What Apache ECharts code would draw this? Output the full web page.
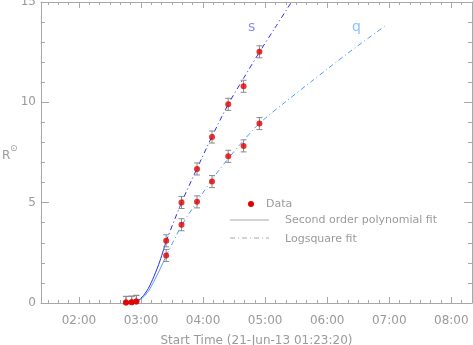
<!DOCTYPE html>
<html>
<head>
<meta charset="utf-8">
<script src="https://cdn.jsdelivr.net/npm/echarts@6/dist/echarts.min.js"></script>
<style>
    html, body { margin: 0; padding: 0; background: #fff; }
    #chart { width: 473px; height: 345px; }
</style>
</head>
<body>
<div id="chart"></div>
<script>
// observation times, 21-Jun-13
var obsTimes = ['02:45:30', '02:51:00', '02:55:30', '03:24:20', '03:39:10', '03:54:10', '04:08:40', '04:24:20', '04:39:10', '04:54:30'];
var sHeights = [0.03, 0.04, 0.08, 3.10, 5.01, 6.68, 8.27, 9.90, 10.80, 12.52];
var qHeights = [0.03, 0.04, 0.08, 2.37, 3.90, 5.04, 6.05, 7.31, 7.83, 8.94];
var sErr = [0.3, 0.3, 0.3, 0.3, 0.3, 0.3, 0.3, 0.3, 0.3, 0.3];
var qErr = [0.3, 0.3, 0.3, 0.3, 0.3, 0.3, 0.3, 0.3, 0.3, 0.3];

// second order polynomial fit (early phase)
var polyTimes = ['02:55:30', '03:01:00', '03:07:00', '03:12:30', '03:18:20', '03:24:20'];
var sPolyVals = [0.05, 0.28, 0.72, 1.32, 2.10, 3.08];
var qPolyVals = [0.05, 0.23, 0.58, 1.08, 1.68, 2.35];

// logsquare fit
var sLogTimes = ['03:24:20', '03:39:10', '03:54:10', '04:08:40', '04:24:20', '04:39:10', '04:54:30', '05:10:00', '05:25:30'];
var sLogVals = [3.08, 5.00, 6.70, 8.30, 9.90, 11.20, 12.50, 13.75, 15.00];
var qLogTimes = ['03:24:20', '03:39:10', '03:54:10', '04:08:40', '04:24:20', '04:39:10', '04:54:30', '05:20:20', '05:45:00', '06:20:00', '06:56:40'];
var qLogVals = [2.35, 3.85, 5.05, 6.15, 7.20, 8.10, 8.95, 10.05, 11.05, 12.45, 13.83];

var hourLabels = ['02:00', '03:00', '04:00', '05:00', '06:00', '07:00', '08:00'];
var xStart = '01:23:20';
var xEnd = '08:20:00';

function toSec(t) {
    var p = t.split(':');
    return (+p[0]) * 3600 + (+p[1]) * 60 + (p[2] ? +p[2] : 0);
}
function pairs(times, vals) {
    return times.map(function(t, i) { return [toSec(t), vals[i]]; });
}
function errs(vals, e) {
    return obsTimes.map(function(t, i) { return [toSec(t), vals[i] - e[i], vals[i] + e[i]]; });
}

var axisColor = '#a8a8a8';
var textColor = '#9a9a9a';
var font = 'DejaVu Sans';
var dashDot = [5, 3, 1, 3];

var xMin = toSec(xStart), xMax = toSec(xEnd);
var hourVals = hourLabels.map(toSec);
var minorVals = [];
for (var v = Math.ceil(xMin / 600) * 600; v <= xMax; v += 600) {
    if (v % 3600 !== 0) minorVals.push(v);
}

function xAx(pos, ticks, len, withLabel, showLine) {
    var a = {
        type: 'value', min: xMin, max: xMax, position: pos,
        axisLine: { show: showLine, onZero: false, lineStyle: { color: axisColor, width: 1 } },
        axisTick: { show: true, inside: true, length: len, customValues: ticks, lineStyle: { color: axisColor } },
        axisLabel: { show: false },
        splitLine: { show: false }
    };
    if (withLabel) {
        a.axisLabel = {
            show: true, customValues: hourVals, margin: 12,
            color: textColor, fontFamily: font, fontSize: 12,
            formatter: function(val) { return hourLabels[hourVals.indexOf(val)] || ''; }
        };
        a.name = 'Start Time (21-Jun-13 01:23:20)';
        a.nameLocation = 'middle';
        a.nameGap = 32;
        a.nameTextStyle = { color: textColor, fontFamily: font, fontSize: 12 };
    }
    return a;
}
function yAx(pos, withLabel) {
    return {
        type: 'value', min: 0, max: 15, interval: 5, position: pos,
        axisLine: { show: true, lineStyle: { color: axisColor, width: 1 } },
        axisTick: { show: true, inside: true, length: 8, lineStyle: { color: axisColor } },
        minorTick: { show: true, splitNumber: 5, length: 4, lineStyle: { color: axisColor } },
        axisLabel: { show: withLabel, margin: 5, color: textColor, fontFamily: font, fontSize: 12 },
        splitLine: { show: false }
    };
}

function renderErr(params, api) {
    var x = api.value(0);
    var top = api.coord([x, api.value(2)]);
    var bot = api.coord([x, api.value(1)]);
    var w = 3;
    var st = { stroke: '#8a8a8a', lineWidth: 1 };
    return {
        type: 'group',
        children: [
            { type: 'line', shape: { x1: top[0], y1: top[1], x2: bot[0], y2: bot[1] }, style: st },
            { type: 'line', shape: { x1: top[0] - w, y1: top[1], x2: top[0] + w, y2: top[1] }, style: st },
            { type: 'line', shape: { x1: bot[0] - w, y1: bot[1], x2: bot[0] + w, y2: bot[1] }, style: st }
        ]
    };
}

function fitLine(data, color, type) {
    return {
        type: 'line', data: data, symbol: 'none', smooth: 0.3, silent: true,
        lineStyle: { color: color, width: 1, type: type }, z: 2
    };
}

var sColor = '#2b2bf0';
var qColor = '#4f9cff';

var chart = echarts.init(document.getElementById('chart'));
chart.setOption({
    animation: false,
    backgroundColor: '#fff',
    grid: { left: 41, right: 1, top: 2, bottom: 42, containLabel: false, outerBoundsMode: 'none' },
    xAxis: [
        xAx('bottom', hourVals, 6, true, true),
        xAx('bottom', minorVals, 3, false, false),
        xAx('top', hourVals, 6, false, true),
        xAx('top', minorVals, 3, false, false)
    ],
    yAxis: [yAx('left', true), yAx('right', false)],
    series: [
        fitLine(pairs(polyTimes, sPolyVals), sColor, 'solid'),
        fitLine(pairs(polyTimes, qPolyVals), qColor, 'solid'),
        fitLine(pairs(sLogTimes, sLogVals), sColor, dashDot),
        fitLine(pairs(qLogTimes, qLogVals), qColor, dashDot),
        { type: 'custom', renderItem: renderErr, data: errs(sHeights, sErr), clip: true, z: 3, silent: true },
        { type: 'custom', renderItem: renderErr, data: errs(qHeights, qErr), clip: true, z: 3, silent: true },
        { type: 'scatter', data: pairs(obsTimes, sHeights), symbolSize: 6, itemStyle: { color: '#e00000' }, z: 4 },
        { type: 'scatter', data: pairs(obsTimes, qHeights), symbolSize: 6, itemStyle: { color: '#e00000' }, z: 4 }
    ],
    graphic: [
        // y axis title
        { type: 'text', left: 2, top: 150, style: { text: 'R', fill: textColor, font: '12px "DejaVu Sans"' } },
        { type: 'text', left: 10, top: 144, style: { text: '\u2299', fill: textColor, font: '9px "DejaVu Sans"' } },
        // curve labels
        { type: 'text', left: 248, top: 20, style: { text: 's', fill: '#8c8cff', font: '14px "DejaVu Sans"' } },
        { type: 'text', left: 352, top: 20, style: { text: 'q', fill: '#8cc0ff', font: '14px "DejaVu Sans"' } },
        // legend
        { type: 'circle', shape: { cx: 251, cy: 204, r: 3 }, style: { fill: '#e00000' } },
        { type: 'text', left: 266, top: 199, style: { text: 'Data', fill: textColor, font: '11px "DejaVu Sans"' } },
        { type: 'line', shape: { x1: 230, y1: 220, x2: 269, y2: 220 }, style: { stroke: axisColor, lineWidth: 1 } },
        { type: 'text', left: 285, top: 215, style: { text: 'Second order polynomial fit', fill: textColor, font: '11px "DejaVu Sans"' } },
        { type: 'line', shape: { x1: 230, y1: 238, x2: 269, y2: 238 }, style: { stroke: axisColor, lineWidth: 1, lineDash: dashDot } },
        { type: 'text', left: 285, top: 234, style: { text: 'Logsquare fit', fill: textColor, font: '11px "DejaVu Sans"' } }
    ]
});
</script>
</body>
</html>
